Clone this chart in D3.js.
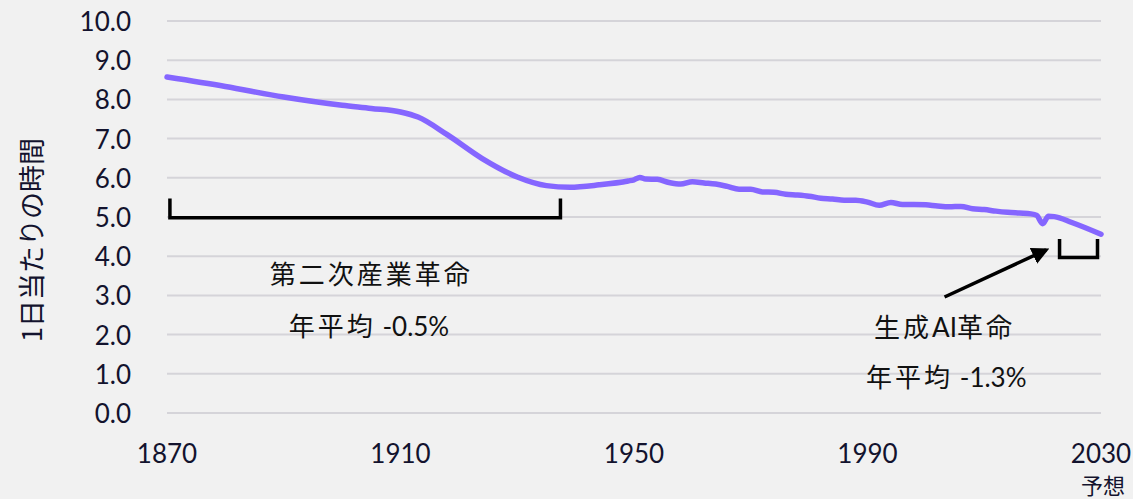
<!DOCTYPE html>
<html>
<head>
<meta charset="utf-8">
<script src="https://cdn.jsdelivr.net/npm/d3@7"></script>
<style>
  html, body { margin: 0; padding: 0; background: #f1f1f1; }
  svg { display: block; }
  .tick-label { font-family: "Lato", "Noto Sans CJK JP", sans-serif; font-size: 26px; fill: #13132e; }
  .jp { font-family: "Lato", "Noto Sans CJK JP", sans-serif; fill: #111; }
</style>
</head>
<body>
<svg id="chart"></svg>
<script>
// ---- data ----
const years = [1870, 1880, 1890, 1900, 1905, 1910, 1913, 1918, 1924, 1930, 1935, 1939, 1944, 1949, 1950, 1951, 1952,
  1954, 1956, 1958, 1960, 1962, 1964, 1966, 1968, 1970, 1972, 1974, 1976, 1978, 1980, 1982, 1984, 1986, 1988,
  1990, 1992, 1994, 1996, 1998, 2000, 2002, 2004, 2006, 2008, 2010, 2012, 2014, 2016, 2018, 2019, 2020, 2021, 2022, 2025, 2030];
const hours = [8.57, 8.33, 8.06, 7.85, 7.77, 7.68, 7.55, 7.10, 6.49, 6.02, 5.80, 5.76, 5.82, 5.92, 5.95, 6.01, 5.97,
  5.96, 5.88, 5.84, 5.90, 5.87, 5.84, 5.78, 5.71, 5.71, 5.64, 5.63, 5.58, 5.56, 5.53, 5.48, 5.46, 5.43, 5.43,
  5.38, 5.30, 5.37, 5.32, 5.32, 5.31, 5.28, 5.26, 5.27, 5.21, 5.19, 5.15, 5.12, 5.10, 5.08, 5.04, 4.83, 5.02, 5.01, 4.86, 4.56];
const xTicks = [1870, 1910, 1950, 1990, 2030];
const yTicks = [0, 1, 2, 3, 4, 5, 6, 7, 8, 9, 10];

// brackets: [startYear, endYear, topValue, bottomValue]
const brackets = [[1870.5, 1937.4, 5.47, 4.98], [2022.9, 2029.4, 4.44, 3.97]];
// arrow: [fromYear, fromValue, toYear, toValue]
const arrow = [2003.2, 2.96, 2020.6, 4.16];
const notes = [
  { text: "第二次産業革命", year: 1905, value: 3.55 },
  { text: "年平均 -0.5%", year: 1904.6, value: 2.23 },
  { text: "生成AI革命", year: 2003.2, value: 2.2 },
  { text: "年平均 -1.3%", year: 2003.5, value: 0.93 }
];

const W = 1133, H = 499;
const svg = d3.select("#chart").attr("width", W).attr("height", H);

const x = d3.scaleLinear().domain([1870, 2030]).range([167, 1101]);
const y = d3.scaleLinear().domain([0, 10]).range([413, 21]);

// grid
svg.append("g").selectAll("line")
  .data(yTicks).enter().append("line")
  .attr("x1", x(1870)).attr("x2", x(2030))
  .attr("y1", d => y(d)).attr("y2", d => y(d))
  .attr("stroke", "#d5d4d9").attr("stroke-width", 2);

// y labels
svg.append("g").selectAll("text")
  .data(yTicks).enter().append("text")
  .attr("class", "tick-label")
  .attr("x", 131).attr("y", d => y(d))
  .attr("text-anchor", "end").attr("dominant-baseline", "central")
  .text(d => d3.format(".1f")(d));

// x labels
svg.append("g").selectAll("text")
  .data(xTicks).enter().append("text")
  .attr("class", "tick-label")
  .attr("x", d => x(d)).attr("y", 453)
  .attr("text-anchor", "middle").attr("dominant-baseline", "central")
  .text(d => d);

svg.append("text").attr("class", "tick-label")
  .attr("x", 1103).attr("y", 484)
  .attr("text-anchor", "middle").attr("dominant-baseline", "central")
  .style("font-family", "'Noto Sans CJK JP', sans-serif").style("font-size", "22px")
  .text("予想");

// y title
svg.append("text").attr("class", "tick-label")
  .attr("transform", "translate(30,240) rotate(-90)")
  .attr("text-anchor", "middle").attr("dominant-baseline", "central")
  .style("font-family", "'Noto Sans CJK JP', sans-serif").style("font-size", "27px")
  .text("1日当たりの時間");

// line
const line = d3.line()
  .x((d, i) => x(years[i]))
  .y(d => y(d))
  .curve(d3.curveMonotoneX);

svg.append("path")
  .datum(hours)
  .attr("d", line)
  .attr("fill", "none")
  .attr("stroke", "#8566ff")
  .attr("stroke-width", 5.5)
  .attr("stroke-linejoin", "round")
  .attr("stroke-linecap", "round");

// brackets
brackets.forEach(b => {
  svg.append("path")
    .attr("d", `M${x(b[0])},${y(b[2])}V${y(b[3])}H${x(b[1])}V${y(b[2])}`)
    .attr("fill", "none").attr("stroke", "#000").attr("stroke-width", 3.5);
});

// arrow
svg.append("defs").append("marker")
  .attr("id", "head").attr("viewBox", "0 0 10 10")
  .attr("refX", 8).attr("refY", 5)
  .attr("markerWidth", 5).attr("markerHeight", 5)
  .attr("orient", "auto")
  .append("path").attr("d", "M0,0L10,5L0,10z").attr("fill", "#000");

svg.append("line")
  .attr("x1", x(arrow[0])).attr("y1", y(arrow[1]))
  .attr("x2", x(arrow[2])).attr("y2", y(arrow[3]))
  .attr("stroke", "#000").attr("stroke-width", 3.5)
  .attr("marker-end", "url(#head)");

// notes: CJK runs spaced out, latin runs tight
const noteText = svg.append("g").selectAll("text")
  .data(notes).enter().append("text")
  .attr("class", "jp")
  .attr("x", d => x(d.year)).attr("y", d => y(d.value))
  .attr("text-anchor", "middle").attr("dominant-baseline", "central")
  .style("font-size", "26px");

noteText.selectAll("tspan")
  .data(d => d.text.match(/[\u3000-\u9fff]+|[^\u3000-\u9fff]+/g))
  .enter().append("tspan")
  .style("letter-spacing", s => /[\u3000-\u9fff]/.test(s) ? "3px" : "0px")
  .text(s => s);
</script>
</body>
</html>
